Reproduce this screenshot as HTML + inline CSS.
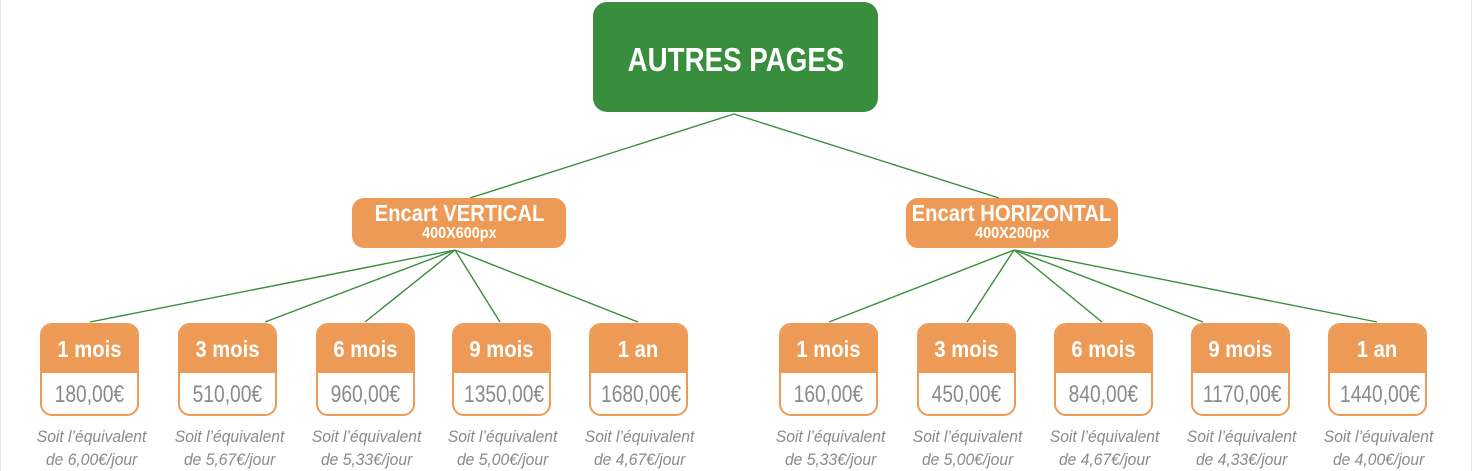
<!DOCTYPE html>
<html><head><meta charset="utf-8"><style>
html,body{margin:0;padding:0;}
body{width:1472px;height:471px;position:relative;background:#fff;overflow:hidden;font-family:"Liberation Sans",sans-serif;}
.bd{position:absolute;top:0;bottom:0;width:1px;background:#e6e6e6;}
span.n{display:inline-block;transform-origin:center;flex:none;}
.top{position:absolute;left:593px;top:2px;width:285px;height:110px;background:#388e3c;border-radius:14px;color:#fff;font-weight:bold;font-size:33px;text-align:center;line-height:116px;}
.top span{transform:scaleX(0.84);}
.mid{position:absolute;top:198px;height:50px;background:#ec9a55;border-radius:12px;color:#fff;text-align:center;font-weight:bold;white-space:nowrap;}
.mid .a,.mid .b{display:flex;justify-content:center;}
.mid .a{font-size:23px;line-height:24px;margin-top:3px;}
.mid .a span{transform:scaleX(0.88);}
.mid .b{font-size:16px;line-height:18px;}
.mid .b span{transform:scaleX(0.9);}
.leaf{position:absolute;top:323px;width:95px;height:89px;border:2px solid #ec9a55;border-radius:12px;overflow:hidden;background:#fff;}
.leaf .h{height:48px;background:#ec9a55;color:#fff;font-weight:bold;font-size:23px;text-align:center;line-height:48px;white-space:nowrap;}
.leaf .h span{transform:scaleX(0.88);}
.leaf .p{color:#8a8a8a;font-size:24px;text-align:center;line-height:44px;white-space:nowrap;}
.leaf .p span{transform:scaleX(0.8);}
.note{position:absolute;top:425px;width:140px;color:#8a8a8a;font-style:italic;font-size:17px;line-height:23px;text-align:center;white-space:nowrap;}
.note span{transform:scaleX(0.92);}
svg{position:absolute;left:0;top:0;}
</style></head><body>
<div class="bd" style="left:0"></div><div class="bd" style="left:1471px"></div>
<svg width="1472" height="471"><g stroke="#388e3c" stroke-width="1.4" fill="none">
<line x1="734" y1="114" x2="470" y2="198"/><line x1="734" y1="114" x2="999" y2="198"/>
<line x1="455" y1="250" x2="90" y2="322"/><line x1="455" y1="250" x2="265" y2="322"/><line x1="455" y1="250" x2="365" y2="322"/><line x1="455" y1="250" x2="500" y2="322"/><line x1="455" y1="250" x2="638" y2="322"/>
<line x1="1014" y1="250" x2="829" y2="322"/><line x1="1014" y1="250" x2="967" y2="322"/><line x1="1014" y1="250" x2="1102" y2="322"/><line x1="1014" y1="250" x2="1203" y2="322"/><line x1="1014" y1="250" x2="1377" y2="322"/>
</g></svg>
<div class="top"><span class="n">AUTRES PAGES</span></div>
<div class="mid" style="left:352px;width:214px"><div class="a"><span class="n">Encart VERTICAL</span></div><div class="b"><span class="n">400X600px</span></div></div>
<div class="mid" style="left:906px;width:212px"><div class="a"><span class="n">Encart HORIZONTAL</span></div><div class="b"><span class="n">400X200px</span></div></div>

<div class="leaf" style="left:40px"><div class="h"><span class="n">1 mois</span></div><div class="p"><span class="n">180,00€</span></div></div>
<div class="leaf" style="left:178px"><div class="h"><span class="n">3 mois</span></div><div class="p"><span class="n">510,00€</span></div></div>
<div class="leaf" style="left:316px"><div class="h"><span class="n">6 mois</span></div><div class="p"><span class="n">960,00€</span></div></div>
<div class="leaf" style="left:452px"><div class="h"><span class="n">9 mois</span></div><div class="p"><span class="n">1350,00€</span></div></div>
<div class="leaf" style="left:589px"><div class="h"><span class="n">1 an</span></div><div class="p"><span class="n">1680,00€</span></div></div>
<div class="leaf" style="left:779px"><div class="h"><span class="n">1 mois</span></div><div class="p"><span class="n">160,00€</span></div></div>
<div class="leaf" style="left:917px"><div class="h"><span class="n">3 mois</span></div><div class="p"><span class="n">450,00€</span></div></div>
<div class="leaf" style="left:1054px"><div class="h"><span class="n">6 mois</span></div><div class="p"><span class="n">840,00€</span></div></div>
<div class="leaf" style="left:1191px"><div class="h"><span class="n">9 mois</span></div><div class="p"><span class="n">1170,00€</span></div></div>
<div class="leaf" style="left:1328px"><div class="h"><span class="n">1 an</span></div><div class="p"><span class="n">1440,00€</span></div></div>

<div class="note" style="left:22px"><span class="n">Soit l’équivalent</span><br><span class="n">de 6,00€/jour</span></div>
<div class="note" style="left:160px"><span class="n">Soit l’équivalent</span><br><span class="n">de 5,67€/jour</span></div>
<div class="note" style="left:297px"><span class="n">Soit l’équivalent</span><br><span class="n">de 5,33€/jour</span></div>
<div class="note" style="left:433px"><span class="n">Soit l’équivalent</span><br><span class="n">de 5,00€/jour</span></div>
<div class="note" style="left:570px"><span class="n">Soit l’équivalent</span><br><span class="n">de 4,67€/jour</span></div>
<div class="note" style="left:761px"><span class="n">Soit l’équivalent</span><br><span class="n">de 5,33€/jour</span></div>
<div class="note" style="left:898px"><span class="n">Soit l’équivalent</span><br><span class="n">de 5,00€/jour</span></div>
<div class="note" style="left:1035px"><span class="n">Soit l’équivalent</span><br><span class="n">de 4,67€/jour</span></div>
<div class="note" style="left:1172px"><span class="n">Soit l’équivalent</span><br><span class="n">de 4,33€/jour</span></div>
<div class="note" style="left:1309px"><span class="n">Soit l’équivalent</span><br><span class="n">de 4,00€/jour</span></div>
</body></html>
